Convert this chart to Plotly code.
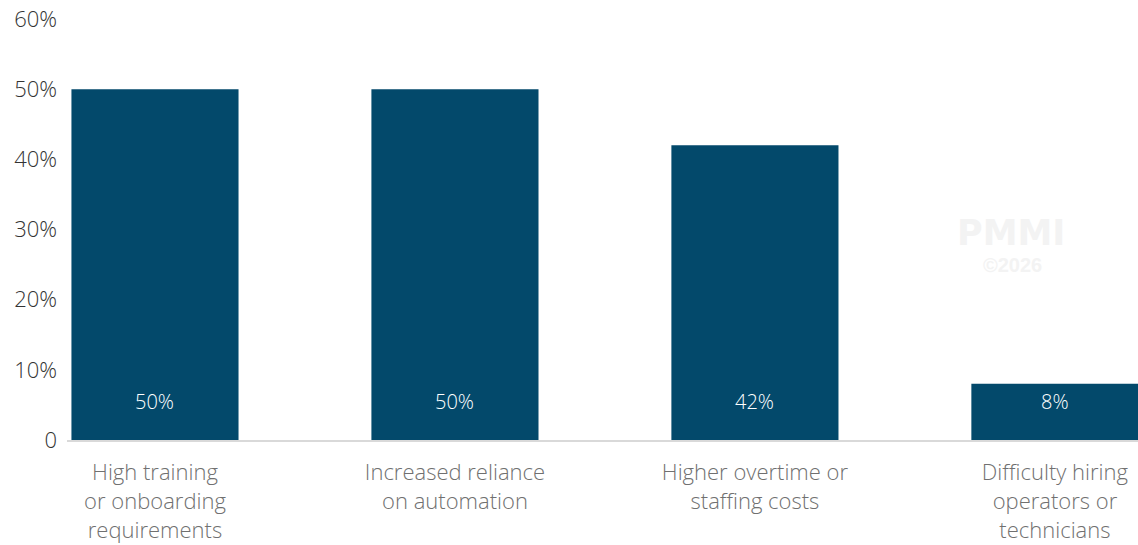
import plotly.graph_objects as go

# Survey results: impacts of workforce shortages
categories = [
    "High training<br>or onboarding<br>requirements",
    "Increased reliance<br>on automation",
    "Higher overtime or<br>staffing costs",
    "Difficulty hiring<br>operators or<br>technicians",
]
values = [50, 50, 42, 8]
y_ticks = [0, 10, 20, 30, 40, 50, 60]
y_tick_text = ["0", "10%", "20%", "30%", "40%", "50%", "60%"]

BAR_COLOR = "#03496B"
FONT = "'Open Sans', Lato, sans-serif"

# Plot-area geometry (pixels) used to place the watermark
L, R, T, B, W, H = 67, 0, 19, 105, 1138, 545
PW, PH = W - L - R, H - T - B

fig = go.Figure(
    go.Bar(
        x=list(range(len(categories))),
        y=values,
        marker=dict(color=BAR_COLOR, line=dict(width=0)),
        hoverinfo="skip",
    )
)

# Value labels sitting near the base of each bar
for i, v in enumerate(values):
    fig.add_annotation(
        x=i, y=0, yref="y", xref="x",
        text=f"{v}%", showarrow=False,
        yshift=39,
        font=dict(family=FONT, size=20, color="white", weight=300),
    )

# Watermark
fig.add_annotation(
    x=(1011 - L) / PW, y=(H - B - 233) / PH,
    xref="paper", yref="paper", xanchor="center", yanchor="middle",
    text="<b>PMMI</b>", showarrow=False, borderpad=0,
    font=dict(family="DejaVu Sans, sans-serif", size=35, color="#F3F3F3"),
)
fig.add_annotation(
    x=(1012 - L) / PW, y=(H - B - 265) / PH,
    xref="paper", yref="paper", xanchor="center", yanchor="middle",
    text="<b>©2026</b>", showarrow=False, borderpad=0,
    font=dict(family="Liberation Sans, Arial, sans-serif", size=20, color="#F3F3F3"),
)

fig.update_layout(
    width=W, height=H,
    margin=dict(l=L, r=R, t=T, b=B),
    paper_bgcolor="white", plot_bgcolor="white",
    bargap=0.443,
    showlegend=False,
    font=dict(family=FONT),
    xaxis=dict(
        range=[-0.2933, 3.277],
        tickmode="array",
        tickvals=list(range(len(categories))),
        ticktext=categories,
        tickfont=dict(family=FONT, size=22, color="#707070", weight=300),
        showgrid=False, zeroline=False,
        showline=True, linecolor="#D9D9D9", linewidth=2,
        ticks="", ticklabelstandoff=12,
        automargin=False,
    ),
    yaxis=dict(
        range=[0, 60],
        tickmode="array",
        tickvals=y_ticks,
        ticktext=y_tick_text,
        tickfont=dict(family=FONT, size=22, color="#333333", weight=300),
        showgrid=False, zeroline=False, showline=False,
        ticks="", ticklabelstandoff=9,
        automargin=False,
    ),
)

fig.write_html("out.html")
